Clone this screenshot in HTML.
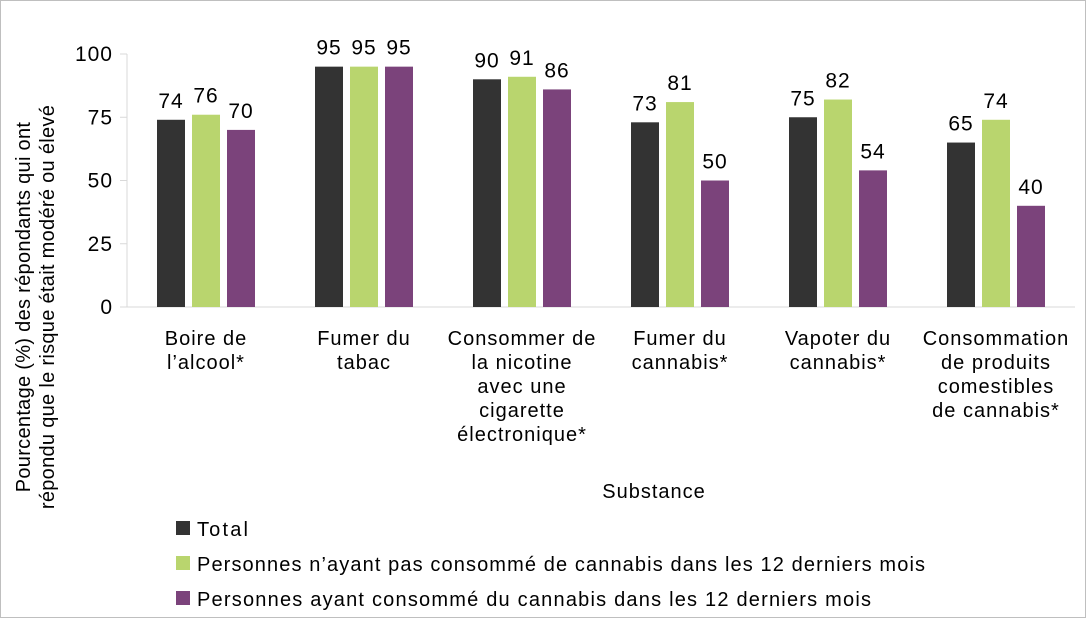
<!DOCTYPE html>
<html><head><meta charset="utf-8"><style>
body{margin:0;background:#fff;}
svg{display:block;font-family:"Liberation Sans",sans-serif;}
</style></head><body>
<svg id="c" width="1086" height="618" xmlns="http://www.w3.org/2000/svg">
<rect x="0.5" y="0.5" width="1085" height="617" fill="#fff" stroke="#bfbfbf"/>
<g id="plot"></g>
</svg>
<script>
const categories=[["Boire de","l’alcool*"],["Fumer du","tabac"],["Consommer de","la nicotine","avec une","cigarette","électronique*"],["Fumer du","cannabis*"],["Vapoter du","cannabis*"],["Consommation","de produits","comestibles","de cannabis*"]];
const totalValues=[74,95,90,73,75,65];
const nonUserValues=[76,95,91,81,82,74];
const userValues=[70,95,86,50,54,40];
const yTicks=[0,25,50,75,100];
const seriesNames=["Total","Personnes n’ayant pas consommé de cannabis dans les 12 derniers mois","Personnes ayant consommé du cannabis dans les 12 derniers mois"];
const colors=["#333333","#b9d56e","#7b437b"];
const NS="http://www.w3.org/2000/svg";
const g=document.getElementById('plot');
const L=127,R=1075,T=54,B=307;
const y=v=>B-(v/100)*(B-T);
const band=(R-L)/categories.length;
const xc=i=>L+band*(i+0.5);
function mk(t,a,txt){const e=document.createElementNS(NS,t);for(const k in a)e.setAttribute(k,a[k]);if(txt!=null)e.textContent=txt;g.appendChild(e);return e;}
let e;
e=mk('line',{x1:L,y1:T,x2:L,y2:B,stroke:'#d9d9d9'});


e=mk('line',{x1:L,y1:B,x2:R,y2:B,stroke:'#d9d9d9'});


yTicks.forEach(t=>{
 e=mk('line',{x1:L-7,y1:y(t),x2:L,y2:y(t),stroke:'#d9d9d9'});
 
 
 e=mk('text',{x:L-14,y:y(t)+7,'text-anchor':'end','font-size':21,fill:'#000','letter-spacing':1},t);
 
 
});
const series=[totalValues,nonUserValues,userValues];
const bw=28,step=35;
categories.forEach((c,i)=>{
 series.forEach((s,j)=>{
  const x=xc(i)-bw/2+(j-1)*step;
  e=mk('rect',{x:x,y:y(s[i]),width:bw,height:B-y(s[i]),fill:colors[j]});
  
  
  e=mk('text',{x:x+bw/2,y:y(s[i])-12,'text-anchor':'middle','font-size':21,fill:'#000','letter-spacing':1},s[i]);
  
  
 });
 c.forEach((line,k)=>{
  e=mk('text',{x:xc(i),y:345+k*24,'text-anchor':'middle','font-size':20,fill:'#000','letter-spacing':1},line);
  
  
 });
});
e=mk('text',{x:654,y:498,'text-anchor':'middle','font-size':20,fill:'#000','letter-spacing':1},'Substance');


const yt=mk('text',{transform:'translate(30,307) rotate(-90)','text-anchor':'middle','font-size':20,fill:'#000','letter-spacing':0.3});


["Pourcentage (%) des répondants qui ont","répondu que le risque était modéré ou élevé"].forEach((s,k)=>{
 const ts=document.createElementNS(NS,'tspan');ts.setAttribute('x',0);ts.setAttribute('y',k*24);ts.textContent=s;yt.appendChild(ts);
});
const legendWidths=[51,728,674];
seriesNames.forEach((n,j)=>{
 const ly=529+j*35;
 e=mk('rect',{x:176,y:ly-8,width:14,height:14,fill:colors[j]});
 
 
 e=mk('text',{x:197,y:ly+7,'font-size':20,fill:'#000',textLength:legendWidths[j],lengthAdjust:'spacing'},n);
 
 
});
</script>
</body></html>
